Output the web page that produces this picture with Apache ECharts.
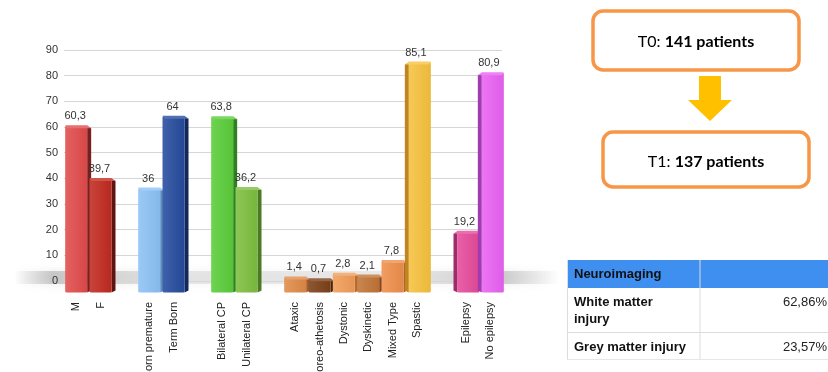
<!DOCTYPE html>
<html><head><meta charset="utf-8">
<script src="https://cdn.jsdelivr.net/npm/echarts@6/dist/echarts.min.js"></script>
<style>html,body{margin:0;padding:0;background:#fff}#c{width:828px;height:372px}</style>
</head><body><div id="c"></div>
<script>
// ---- data ----
const categories = ['M','F','','Born premature','Term Born','','Bilateral CP','Unilateral CP','','Ataxic','Choreo-athetosis','Dystonic','Dyskinetic','Mixed Type','Spastic','','Epilepsy','No epilepsy'];
const values = [60.3,39.7,null,36,64,null,63.8,36.2,null,1.4,0.7,2.8,2.1,7.8,85.1,null,19.2,80.9];
const yMin = 0, yMax = 90, yStep = 10;
const timepoints = ['T0','T1'];
const patientCounts = [141,137];
const imagingHeader = 'Neuroimaging';
const imagingLabels = [['White matter','injury'],['Grey matter injury']];
const imagingValues = [62.86, 23.57];

// ---- styles ----
const frontColors = ['#e24b4b','#c22a20',null,'#8cc2f5','#264c9e',null,'#5acd3a','#7dbf3f',null,'#e08a48','#7c4018','#f19d58','#c27537','#ef8f4c','#f6c23e',null,'#e64a9b','#ea62f3'];
const sideColors  = ['#7a1f1f','#5e1410',null,'#5b8cc0','#12275a',null,'#2f8020','#4a7a22',null,'#a85a28','#4e2408','#b86a30','#84481c','#b0602a','#c08420',null,'#a02a6a','#a03cb0'];
const BASE = -4.5;
const comma = v => String(v).replace('.', ',');

function shade(hex, f){
  const n = parseInt(hex.slice(1),16);
  let r=(n>>16)&255,g=(n>>8)&255,b=n&255;
  const m = c => Math.max(0,Math.min(255,Math.round(f>0? c+(255-c)*f : c*(1+f))));
  return 'rgb('+m(r)+','+m(g)+','+m(b)+')';
}

const seriesData = [];
values.forEach((v,i)=>{ if(v!==null) seriesData.push([i,v]); });

const chart = echarts.init(document.getElementById('c'), null, {renderer:'canvas'});
chart.setOption({
  animation:false,
  backgroundColor:'#fff',
  grid:{left:64, top:50, width:438, height:231, containLabel:false, outerBoundsMode:'none'},
  xAxis:{type:'category', data:categories, boundaryGap:true,
    axisLine:{show:false}, axisTick:{show:false},
    axisLabel:{rotate:90, interval:0, margin:21, fontSize:11, color:'#222', fontFamily:'Liberation Sans'}},
  yAxis:{type:'value', min:yMin, max:yMax, interval:yStep,
    axisLine:{show:false}, axisTick:{show:false},
    axisLabel:{fontSize:11, color:'#333', margin:6, fontFamily:'Liberation Sans'},
    splitLine:{lineStyle:{color:'#d6d6d6', width:1.2}}},
  graphic:[
    {type:'rect', z:-10, shape:{x:14,y:271,width:545,height:13},
     style:{fill:{type:'linear',x:0,y:0,x2:1,y2:0,colorStops:[
       {offset:0,color:'rgba(150,150,150,0)'},{offset:0.07,color:'rgba(150,150,150,0.45)'},
       {offset:0.3,color:'rgba(170,170,170,0.25)'},{offset:0.7,color:'rgba(170,170,170,0.2)'},
       {offset:0.9,color:'rgba(150,150,150,0.4)'},{offset:1,color:'rgba(150,150,150,0)'}]},
       shadowBlur:10, shadowColor:'rgba(150,150,150,0.45)'}},
    {type:'rect', shape:{x:593,y:11,width:206,height:59,r:10}, style:{fill:'#fff',stroke:'#f79646',lineWidth:3.5}},
    {type:'text', x:696, y:42, style:{text:'{a|'+timepoints[0]+': }{b|'+patientCounts[0]+' patients}', align:'center', verticalAlign:'middle',
      rich:{a:{fontFamily:'Lato',fontSize:16,color:'#111'},b:{fontFamily:'Lato',fontSize:16,fontWeight:'bold',color:'#111'}}}},
    {type:'polygon', shape:{points:[[699,76],[721,76],[721,100],[732,100],[710,121],[688,100],[699,100]]}, style:{fill:'#ffc000'}},
    {type:'rect', shape:{x:603,y:132,width:206,height:55,r:10}, style:{fill:'#fff',stroke:'#f79646',lineWidth:3.5}},
    {type:'text', x:706, y:162, style:{text:'{a|'+timepoints[1]+': }{b|'+patientCounts[1]+' patients}', align:'center', verticalAlign:'middle',
      rich:{a:{fontFamily:'Lato',fontSize:16,color:'#111'},b:{fontFamily:'Lato',fontSize:16,fontWeight:'bold',color:'#111'}}}},
    // table
    {type:'rect', shape:{x:567,y:260,width:261,height:28}, style:{fill:'#3f8ff0'}},
    {type:'line', shape:{x1:700,y1:260,x2:700,y2:359}, style:{stroke:'#dcdcdc',lineWidth:1}},
    {type:'line', shape:{x1:567.5,y1:260,x2:567.5,y2:359}, style:{stroke:'#dcdcdc',lineWidth:1}},
    {type:'line', shape:{x1:567,y1:332.5,x2:828,y2:332.5}, style:{stroke:'#dcdcdc',lineWidth:1}},
    {type:'line', shape:{x1:567,y1:359.5,x2:828,y2:359.5}, style:{stroke:'#e6e6e6',lineWidth:1}},
    {type:'text', x:574, y:274, style:{text:imagingHeader, fontFamily:'Liberation Sans', fontSize:13, fontWeight:'bold', fill:'#111', verticalAlign:'middle'}},
    {type:'text', x:574, y:302, style:{text:imagingLabels[0][0], fontFamily:'Liberation Sans', fontSize:13, fontWeight:'bold', fill:'#111', verticalAlign:'middle'}},
    {type:'text', x:574, y:319, style:{text:imagingLabels[0][1], fontFamily:'Liberation Sans', fontSize:13, fontWeight:'bold', fill:'#111', verticalAlign:'middle'}},
    {type:'text', x:574, y:347, style:{text:imagingLabels[1][0], fontFamily:'Liberation Sans', fontSize:13, fontWeight:'bold', fill:'#111', verticalAlign:'middle'}},
    {type:'text', x:827, y:302, style:{text:comma(imagingValues[0].toFixed(2))+'%', fontFamily:'Liberation Sans', fontSize:13, fill:'#222', align:'right', verticalAlign:'middle'}},
    {type:'text', x:827, y:347, style:{text:comma(imagingValues[1].toFixed(2))+'%', fontFamily:'Liberation Sans', fontSize:13, fill:'#222', align:'right', verticalAlign:'middle'}}
  ],
  series:[{
    type:'custom', clip:false, z:5,
    data:seriesData,
    encode:{x:0,y:1},
    renderItem:function(params, api){
      const idx = api.value(0), v = api.value(1);
      const t = api.coord([idx, v]), b = api.coord([idx, BASE]);
      const cx = t[0], ty = t[1], by = b[1];
      const left = idx >= 14;
      const fw = 22, sw = 4;
      const fx = left ? cx - 8 : cx - 11;
      const fc = frontColors[idx], sc = sideColors[idx];
      let sidePts;
      if(left){
        sidePts = [[fx, ty],[fx-sw, ty+2],[fx-sw, by-2],[fx, by]];
      } else {
        sidePts = [[fx+fw, ty],[fx+fw+sw, ty+2],[fx+fw+sw, by-2],[fx+fw, by]];
      }
      const topPts = left
        ? [[fx-sw, ty+2],[fx, ty-1],[fx+fw, ty-1],[fx+fw-2, ty+2]]
        : [[fx, ty-1],[fx+fw, ty-1],[fx+fw+sw, ty+2],[fx+2, ty+2]];
      return {type:'group', children:[
        {type:'polygon', shape:{points:sidePts}, style:{fill:sc}},
        {type:'rect', shape:{x:fx, y:ty, width:fw, height:by-ty, r:[0,0,1.5,1.5]},
          style:{fill:{type:'linear',x:0,y:0,x2:1,y2:0,colorStops:[{offset:0,color:shade(fc,0.12)},{offset:1,color:shade(fc,-0.05)}]}}},
        {type:'polygon', shape:{points:topPts}, style:{fill:shade(fc,0.2)}},
        {type:'text', style:{text:comma(v), x:cx-1, y:ty-10, align:'center', verticalAlign:'middle',
          fontSize:11, fontFamily:'Liberation Sans', fill:'#333'}}
      ]};
    }
  }]
});
</script></body></html>
